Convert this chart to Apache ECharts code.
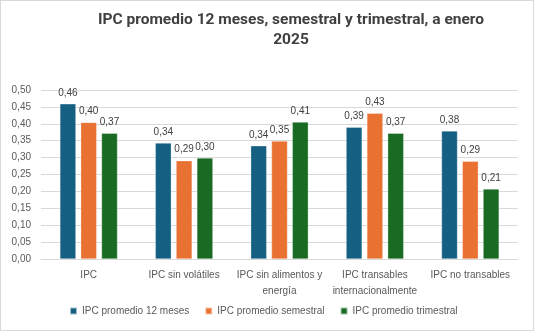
<!DOCTYPE html>
<html><head><meta charset="utf-8">
<script src="https://cdn.jsdelivr.net/npm/echarts@6/dist/echarts.min.js"></script>
<style>html,body{margin:0;padding:0;background:#fff}#c{width:534px;height:331px;box-sizing:border-box;border:1px solid #d9d9d9}</style>
</head><body><div id="c"></div>
<script>
const categories = ['IPC', 'IPC sin volátiles', 'IPC sin alimentos y\nenergía', 'IPC transables\ninternacionalmente', 'IPC no transables'];
const seriesNames = ['IPC promedio 12 meses', 'IPC promedio semestral', 'IPC promedio trimestral'];
const prom12 = [0.459, 0.343, 0.335, 0.390, 0.379];
const promSem = [0.404, 0.291, 0.349, 0.431, 0.289];
const promTrim = [0.372, 0.299, 0.405, 0.372, 0.207];
const colors = ['#156082', '#E97132', '#196B24'];

const chart = echarts.init(document.getElementById('c'));
const fmt = v => v.toFixed(2).replace('.', ',');
const mk = (name, data, color) => ({
  name, type: 'bar', data, barWidth: 16, barGap: '30%',
  itemStyle: { color, borderColor: 'rgba(255,255,255,0.6)', borderWidth: 0.5 },
  label: { show: true, position: 'top', distance: 6, color: '#404040', fontSize: 10, fontFamily: 'Liberation Sans',
    formatter: p => fmt(p.value) }
});
chart.setOption({
  animation: false,
  title: { text: 'IPC promedio 12 meses, semestral y trimestral, a enero\n2025', left: 285, textAlign: 'center', top: 4,
    textStyle: { fontSize: 15.5, fontWeight: 'bold', color: '#404040', fontFamily: 'Roboto', lineHeight: 20 } },
  grid: { left: 40, right: 15, top: 89, bottom: 71 },
  legend: { bottom: 9, left: 63, itemWidth: 7, itemHeight: 7, itemGap: 15, icon: 'rect',
    textStyle: { fontSize: 10, color: '#595959', fontFamily: 'Liberation Sans' }, data: seriesNames },
  xAxis: { type: 'category', data: categories,
    axisLine: { lineStyle: { color: '#d9d9d9' } }, axisTick: { show: false },
    axisLabel: { interval: 0, color: '#595959', fontSize: 10, fontFamily: 'Liberation Sans', lineHeight: 16, margin: 8 } },
  yAxis: { type: 'value', min: 0, max: 0.5, interval: 0.05,
    axisLabel: { formatter: v => fmt(v), color: '#595959', fontSize: 10, fontFamily: 'Liberation Sans', margin: 10 },
    splitLine: { lineStyle: { color: '#d9d9d9' } } },
  series: [mk(seriesNames[0], prom12, colors[0]), mk(seriesNames[1], promSem, colors[1]), mk(seriesNames[2], promTrim, colors[2])]
});
</script></body></html>
